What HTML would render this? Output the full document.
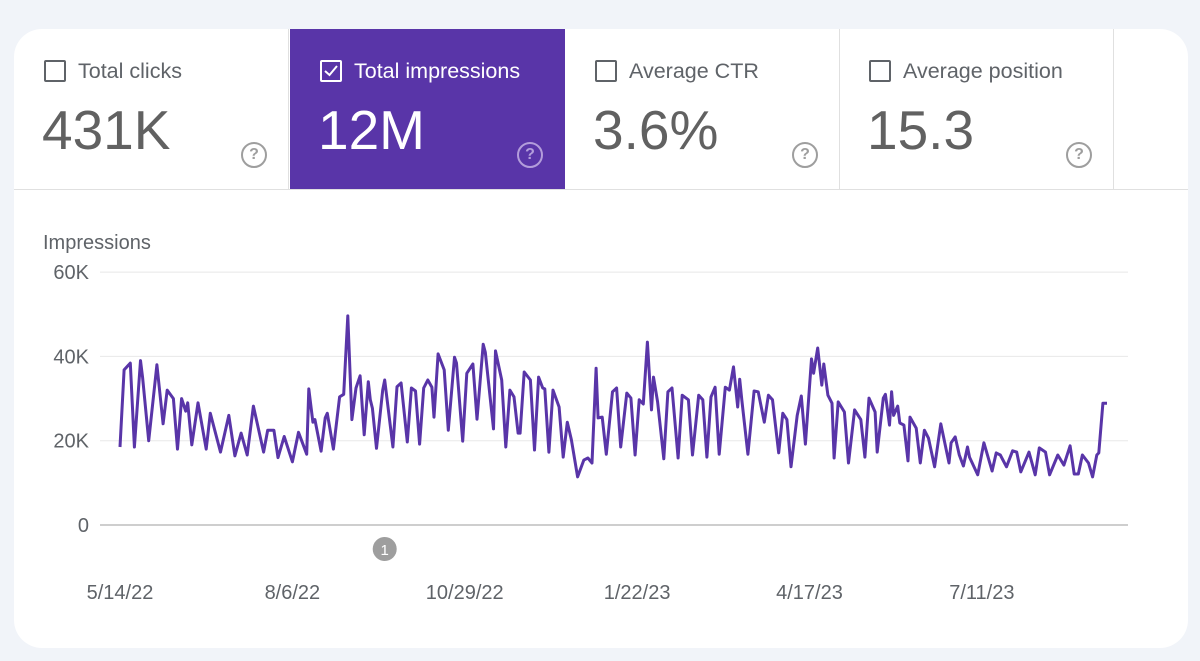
<!DOCTYPE html>
<html><head><meta charset="utf-8"><style>
body{margin:0;width:1200px;height:661px;background:#f1f4f9;font-family:"Liberation Sans",sans-serif;overflow:hidden;position:relative}
.card{position:absolute;left:14px;top:29px;width:1174px;height:619px;background:#fff;border-radius:28px;overflow:hidden}
.tabs{position:absolute;left:0;top:0;width:1174px;height:160px;border-bottom:1px solid #e0e0e0}
.tab{position:absolute;top:0;height:160px;width:275px;box-sizing:border-box;border-right:1px solid #e0e0e0;color:#5f6368}
.tab.sel{background:#5935a8;color:#fff;border-right:none}
.cb{position:absolute;left:30px;top:31px;width:18px;height:18px;border:2px solid #5f6368;border-radius:2px}
.sel .cb{border-color:#fff}
.lbl{position:absolute;left:64px;top:30px;font-size:21.5px}
.num{position:absolute;left:28px;top:69px;font-size:55px;color:#616161}
.sel .num{color:#fff}
.help{position:absolute;left:227px;top:113px;width:22px;height:22px;border:2px solid #9e9e9e;border-radius:50%;color:#9e9e9e;font-size:16px;text-align:center;line-height:22px;font-weight:bold}
.sel .help{border-color:#b39ddb;color:#b39ddb}
</style></head><body>
<div class="card">
<div class="tabs">
<div class="tab" style="left:0"><div class="cb"></div><div class="lbl">Total clicks</div><div class="num">431K</div><div class="help">?</div></div>
<div class="tab sel" style="left:276px"><div class="cb"><svg width="18" height="18" style="position:absolute;left:0;top:0"><path d="M3 9 L7.5 13 L15 4" stroke="#fff" stroke-width="2" fill="none"/></svg></div><div class="lbl">Total impressions</div><div class="num">12M</div><div class="help">?</div></div>
<div class="tab" style="left:551px"><div class="cb"></div><div class="lbl">Average CTR</div><div class="num">3.6%</div><div class="help">?</div></div>
<div class="tab" style="left:825px"><div class="cb"></div><div class="lbl">Average position</div><div class="num">15.3</div><div class="help">?</div></div>
</div>
</div>
<svg id="chart" width="1200" height="661" style="position:absolute;left:0;top:0"></svg>
<script>
const days=[0,2,5,7,10,11,14,18,21,23,26,28,30,32,33,35,38,42,44,49,53,56,59,62,65,70,72,75,77,80,84,87,91,92,94,95,98,100,101,104,107,109,111,113,115,117,119,121,122,123,125,128,129,133,135,137,140,142,144,146,148,150,152,153,155,158,160,163,164,167,169,172,174,177,178,182,183,186,188,190,192,194,195,197,200,202,204,206,207,209,211,214,216,218,220,223,226,228,230,232,233,235,237,240,242,244,247,249,251,253,255,257,259,260,262,265,267,269,272,274,277,279,282,284,286,288,290,292,295,297,299,301,302,303,306,309,311,314,316,318,321,323,325,327,330,332,334,337,338,340,342,343,345,347,348,350,353,355,358,361,363,365,368,369,372,373,375,376,377,379,380,382,384,385,388,390,392,394,397,400,404,405,407,409,411,413,414,418,421,425,427,429,432,435,437,439,443,446,448,451,453,457,460,463,465,467,469,472,474,476,477,479,481];
const impressions=[18.5,36.8,38.4,18.5,39,35,20,38,24,32,30,18,30,27,29,19,29,18,26.5,17.3,26,16.4,21.8,16.6,28.2,17.3,22.5,22.5,16,21,15,22,16.8,32.3,24.4,25,17.5,25.4,26.5,18,30.4,31,49.6,25,32.5,35.4,21.4,34,29.7,27.7,18.2,32,34.4,18.5,32.8,33.7,19.7,32.5,31.8,19.2,32.5,34.4,32.7,25.6,40.6,36.8,22.5,39.8,38.4,19.9,36,38.2,25.1,42.9,41,22.8,41.3,34.4,18.5,32,30.4,21.8,21.8,36.3,34.4,17.8,35.1,32.5,32.3,17.3,32,28,16.1,24.4,20.2,11.4,15.4,15.9,14.7,37.2,25.4,25.6,16.8,31.6,32.5,18.5,31.3,30.1,16.6,29.7,28.7,43.4,27.3,35.1,29.2,15.7,31.6,32.5,15.9,30.8,29.7,16.6,30.8,29.7,16.1,30.4,32.7,16.8,32.7,32,37.5,28,34.6,29.7,16.8,31.8,31.6,24.4,30.8,29.7,17.1,26.5,25,13.8,26,30.6,19.2,39.4,36,42,33.2,38.2,30.8,28.9,15.9,29.2,26.8,14.7,27.3,25,16.1,30.1,26.8,17.3,30.1,31,23.7,31.6,26,28.2,24.2,23.7,15.2,25.6,23,14.7,22.5,20.6,13.8,24,14.7,19.5,20.9,16.6,14,18.5,16.1,11.9,19.5,12.8,17.1,16.6,13.8,17.6,17.3,12.6,17.3,11.9,18.3,17.3,11.9,16.6,14.2,18.8,12.1,12.1,16.6,14.7,11.4,16.6,17.1,28.9,28.9];
const yTicks=[0,20,40,60];
const yTickLabels=["0","20K","40K","60K"];
const xTickDays=[0,84,168,252,336,420];
const xTickLabels=["5/14/22","8/6/22","10/29/22","1/22/23","4/17/23","7/11/23"];
const annotationDay=129;
const NS="http://www.w3.org/2000/svg";
const svg=document.getElementById('chart');
const X=d=>120+d*2.052;
const Y=v=>525-v*4.215;
function el(t,a,txt){const e=document.createElementNS(NS,t);for(const k in a)e.setAttribute(k,a[k]);if(txt!==undefined)e.textContent=txt;svg.appendChild(e);return e;}
const title=el('text',{x:43,y:249,'font-size':20,fill:'#5f6368','font-family':'Liberation Sans'},'Impressions');


yTicks.forEach((t,i)=>{
 const g=el('line',{x1:100,x2:1128,y1:Y(t),y2:Y(t),stroke:i==0?'#9e9e9e':'#e8e8e8','stroke-width':1});
 
 
 const l=el('text',{x:89,y:Y(t)+7,'text-anchor':'end','font-size':20,fill:'#5f6368','font-family':'Liberation Sans'},yTickLabels[i]);
 
 
});
xTickDays.forEach((d,i)=>{
 const l=el('text',{x:X(d),y:599,'text-anchor':'middle','font-size':20,fill:'#5f6368','font-family':'Liberation Sans'},xTickLabels[i]);
 
 
});
const pts=days.map((d,i)=>X(d).toFixed(1)+','+Y(impressions[i]).toFixed(1)).join(' ');
const line=el('polyline',{points:pts,fill:'none',stroke:'#5935a8','stroke-width':3,'stroke-linejoin':'round'});


const c=el('circle',{cx:X(annotationDay),cy:549,r:12,fill:'#9e9e9e'});


const ct=el('text',{x:X(annotationDay),y:555,'text-anchor':'middle','font-size':15,fill:'#fff','font-family':'Liberation Sans'},'1');


</script>
</body></html>
